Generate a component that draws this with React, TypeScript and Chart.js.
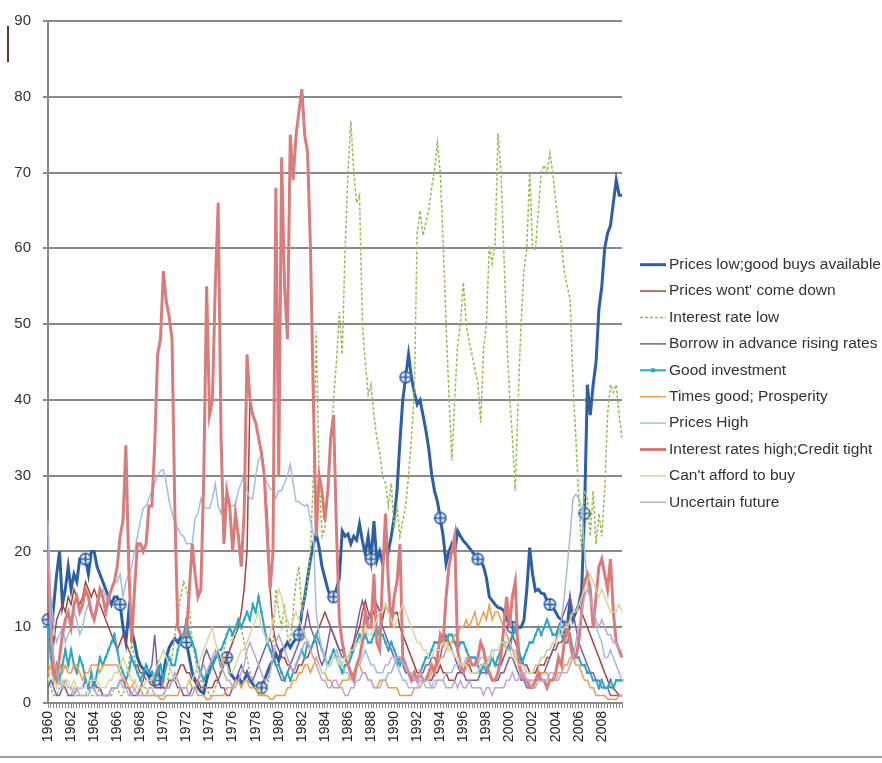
import React, { useEffect, useRef } from "react";
import { Chart, registerables } from "chart.js";

Chart.register(...registerables);

// Quarterly survey shares (%), 1960 Q1 – 2009 Q4
const FIRST_YEAR = 1960;
const QUARTER_LABELS = Array.from({ length: 200 }, (_, i) => `${FIRST_YEAR + Math.floor(i / 4)} Q${(i % 4) + 1}`);
const YEAR_TICKS = ["1960", "1962", "1964", "1966", "1968", "1970", "1972", "1974", "1976", "1978", "1980", "1982", "1984", "1986", "1988", "1990", "1992", "1994", "1996", "1998", "2000", "2002", "2004", "2006", "2008"];

const PRICES_LOW = [
  11, 9, 13, 17, 20, 13, 15, 18, 15, 17, 16, 19, 19, 19, 17, 20, 20, 18, 17, 16,
  15, 14, 13, 14, 14, 13, 10, 8, 12, 9.5, 8, 6, 5, 4.5, 4, 3.5, 4, 3, 4.7, 2.6,
  4, 6, 7.3, 8, 8.5, 8, 8.7, 8.5, 8, 6, 4, 3, 2, 1.5, 1.3, 3, 4.7, 5, 6, 6.5,
  5, 5.5, 6, 4, 3.5, 3, 3.5, 2.6, 3, 4, 3, 2.5, 2, 2.5, 2, 3, 4, 5, 5.6, 6.5,
  5.6, 7, 7.3, 8, 7.3, 8, 8.5, 9, 12, 14, 16.5, 19, 21, 22.3, 20.5, 18, 16.5, 15, 14, 14,
  15, 16.5, 22.7, 22, 22.3, 21, 22, 21.5, 23.6, 21.4, 19.7, 22, 19, 24, 18.8, 20, 18.4, 21.4, 20, 22,
  24.4, 28, 34.5, 40, 43, 46, 43, 41, 39.4, 40, 38, 36, 33.6, 30.2, 28, 26.6, 24.4, 22, 18.4, 20,
  21, 20, 22.7, 22, 21.4, 21, 20.5, 20, 19.5, 19, 18.8, 18, 16.5, 14, 13.5, 13, 12.6, 12.5, 12.2, 11,
  10.5, 10, 10.5, 10, 10, 10.9, 15, 20.5, 17, 14.8, 15, 14.5, 14.4, 13.5, 13, 12.6, 12, 11.3, 11, 10,
  10, 13.5, 11, 12, 13, 14.8, 25, 42, 38, 42, 45, 52, 55, 60, 62, 63, 66, 69, 67, 67,
];

const PRICES_WONT_COME_DOWN = [
  12, 10, 8, 11, 12, 13, 12, 14, 13, 15, 14, 13, 14, 16, 15, 14, 15, 14, 13, 12,
  11, 10, 9, 8, 7, 8, 9, 8, 7, 6, 5, 5, 4, 4, 3, 3, 3, 2, 2, 2,
  2, 2, 3, 3, 3, 4, 5, 5, 4, 4, 3, 3, 3, 2, 2, 2, 2, 2, 3, 3,
  4, 5, 6, 7, 8, 9, 10, 12, 15, 20, 40, 38, 37, 35, 33, 30, 25, 15, 10, 8,
  7, 6, 6, 5, 5, 4, 4, 5, 5, 6, 6, 7, 8, 9, 10, 11, 12, 11, 10, 9,
  8, 7, 7, 6, 6, 7, 8, 9, 10, 12, 13.5, 12, 11, 12, 13, 12, 11, 13, 12, 11,
  11.8, 12, 10, 9, 8, 7, 6, 5, 4, 4, 3, 3, 3, 3, 4, 4, 5, 4, 4, 3,
  3, 3, 4, 4, 4, 5, 5, 4, 4, 4, 5, 5, 5, 6, 6, 5, 5, 5, 6, 7,
  8, 9, 8, 7, 6, 5, 5, 4, 4, 4, 5, 5, 5, 6, 6, 7, 7, 8, 8, 9,
  10, 11, 12, 12, 13, 12, 11, 10, 9, 8, 7, 6, 5, 4, 3, 2, 2, 1.5, 1, 1,
];

const INTEREST_RATE_LOW = [
  3, 2, 1, 1, 2, 3, 2, 1, 1, 2, 1, 1, 1, 1, 2, 1, 1, 1, 2, 1,
  1, 1, 1, 2, 2, 1, 1, 3, 5, 8, 6, 4, 3, 2, 2, 1, 1, 1, 1, 1,
  1, 2, 4, 6, 9, 12, 14, 16, 15, 13, 8, 6, 4, 3, 2, 2, 1, 1, 2, 3,
  5, 7, 9, 10, 8, 9, 11, 10, 8, 6, 4, 3, 2, 2, 1, 1, 2, 4, 8, 15,
  12, 10, 13, 9, 8, 12, 16, 18, 12, 14, 16, 20, 30, 49, 30, 22, 23, 28, 33, 40,
  45, 51.6, 46, 60, 70, 76.8, 70, 66, 67, 50, 45, 40.7, 42, 38, 35, 33, 30, 29, 26, 29,
  23, 26, 22, 24, 26, 30, 35, 41, 62, 65, 61.7, 63.4, 65, 68, 70.3, 73.9, 70, 60.8, 50, 40.7,
  32, 40, 47.2, 50, 55.5, 50, 47.6, 46, 44, 42.4, 37, 46.7, 50, 60.4, 58, 60.4, 75.2, 70.3, 59.8, 49,
  40.7, 35, 28, 40, 50, 57, 60, 70, 60, 59.8, 65, 70, 71, 70, 72.6, 70, 66.4, 63, 60.4, 57,
  55, 53.3, 42.4, 35, 27, 20, 28, 27, 22, 28, 21, 25, 22, 28, 38, 42, 41, 42, 38, 35,
];

const BORROW_IN_ADVANCE = [
  2, 3, 2, 1, 1, 2, 2, 1, 1, 1, 2, 2, 2, 3, 2, 2, 3, 2, 2, 1,
  1, 1, 2, 2, 2, 3, 3, 2, 2, 1, 1, 1, 2, 3, 5, 4, 5, 9, 4, 3,
  2, 2, 2, 3, 3, 2, 2, 1, 1, 1, 2, 2, 3, 4, 6, 7, 6, 5, 4, 3,
  2, 2, 1, 1, 2, 3, 4, 5, 4, 4, 3, 3, 4, 5, 6, 7, 8, 8.5, 7, 5,
  4, 3, 3, 4, 5, 6, 7, 8, 9, 10, 12, 10, 9, 8, 6, 5, 6, 8, 10, 9,
  8, 7, 6, 6, 5, 6, 8, 10, 12, 13.5, 12, 11, 12, 14, 13, 12, 10, 9, 8, 7,
  6, 5, 6, 5, 4, 4, 3, 3, 3, 4, 4, 5, 5, 6, 6, 5, 6, 8, 9, 8,
  7, 6, 5, 4, 4, 3, 3, 3, 3, 3, 4, 4, 4, 4, 3, 3, 3, 4, 4, 5,
  6, 6, 5, 4, 3, 3, 2, 2, 2, 3, 3, 4, 4, 5, 6, 7, 8, 10, 11, 12,
  13, 14, 12, 10, 8, 7, 6, 5, 4, 4, 3, 3, 2, 2, 2, 1, 1, 1, 1, 1,
];

const GOOD_INVESTMENT = [
  10, 6, 3, 5, 3, 5, 7, 5, 7, 5, 4, 6, 5, 3, 2, 4, 2, 4, 6, 5,
  6, 7, 8, 9, 7, 5, 4, 3, 4, 6, 5, 4, 3, 4, 5, 4, 4, 3, 4, 5,
  3, 5, 6, 5, 5, 7, 8, 9, 11, 9, 8, 7, 5, 4, 3, 4, 4, 5, 6, 7,
  7, 8, 9, 10, 9, 10, 11, 10, 11, 12, 11, 13, 12, 14, 12, 10, 8, 7, 6, 5,
  5, 4, 3, 4, 3, 4, 5, 6, 7, 6, 8, 7, 8, 9, 8, 7, 6, 5, 6, 7,
  6, 5, 4, 5, 5, 6, 7, 8, 9, 8, 9, 8, 8, 9, 10, 9, 9, 8, 7, 8,
  7, 6, 5, 6, 5, 4, 3, 4, 3, 4, 5, 6, 6, 7, 8, 8, 8, 9, 8, 9,
  9, 8, 7, 8, 8, 7, 6, 6, 6, 5, 4, 5, 4, 5, 6, 5, 6, 7, 8, 7,
  7, 9, 10, 8, 5, 6, 7, 8, 8, 9, 10, 9, 10, 11, 10, 9, 9, 10, 9, 8,
  8, 9, 7, 6, 6, 5, 5, 4, 4, 3, 3, 2, 3, 2, 2, 3, 2, 3, 3, 3,
];

const TIMES_GOOD = [
  4, 5, 4, 5, 5, 4, 5, 4, 4, 5, 5, 4, 3, 4, 4, 5, 5, 5, 4, 5,
  5, 5, 5, 5, 5, 4, 3, 3, 2, 2, 3, 2, 2, 1, 1, 1, 1, 1, 1, 0.5,
  0.5, 1, 1, 1, 1, 1, 2, 2, 2, 3, 2, 2, 1, 1, 1, 0.5, 0.5, 1, 1, 1,
  1, 1, 2, 2, 2, 3, 3, 2, 3, 3, 2, 2, 2, 1, 1, 1, 1, 0.5, 0.5, 1,
  1, 1, 1, 2, 2, 3, 3, 4, 4, 5, 5, 4, 5, 6, 5, 4, 4, 3, 3, 2,
  2, 2, 3, 3, 3, 4, 4, 5, 5, 4, 4, 3, 3, 2, 2, 3, 3, 3, 2, 2,
  2, 2, 1, 1, 1, 1, 1, 2, 2, 2, 3, 3, 3, 4, 5, 5, 6, 6, 7, 8,
  8, 9, 9, 10, 10, 11, 10, 11, 12, 10, 11, 12, 11, 13, 11, 12, 12, 11, 10, 9,
  8, 7, 6, 5, 4, 4, 3, 3, 3, 3, 4, 4, 4, 4, 3, 3, 3, 4, 4, 5,
  5, 6, 6, 5, 5, 4, 3, 3, 2, 2, 1, 1, 1, 1, 0.5, 0.5, 0.5, 0.5, 1, 1,
];

const PRICES_HIGH = [
  17, 14, 10, 8, 9, 10, 8, 9, 10, 12, 11, 9, 10, 12, 13, 12, 11, 12, 14, 15,
  14, 13, 15, 16, 16, 17, 14, 16, 17, 18, 20, 22, 24, 25.7, 26, 27, 28, 29, 30, 30.6,
  30.8, 29, 26.6, 25, 24, 23, 22.3, 22, 21, 21, 21, 24.4, 25, 27, 26, 25.7, 25.7, 27, 28.9, 26,
  25, 27, 27, 26, 26, 26.2, 28, 29, 30.2, 28, 27, 27, 30, 32, 32.8, 30, 29, 28.3, 28, 27,
  28, 28, 29, 30, 31.5, 29, 26.6, 26.6, 26.2, 26, 26.2, 24, 22.3, 12, 9, 7, 6, 5, 5, 6,
  7, 6, 5, 4, 4, 3, 4, 5, 5, 6, 7, 6, 5, 5, 4, 4, 4, 5, 5, 6,
  6, 5, 4, 3, 3, 2, 2, 2, 2, 3, 3, 2, 2, 2, 3, 3, 3, 3, 4, 4,
  4, 5, 5, 5, 5, 6, 6, 5, 5, 5, 6, 6, 6, 6, 7, 7, 7, 7, 8, 8,
  8, 7, 7, 6, 5, 5, 4, 4, 4, 5, 5, 6, 6, 7, 7, 8, 8, 9, 11, 14,
  18, 22, 27, 27.5, 27, 26, 20, 16, 14, 12, 10, 9, 8, 6, 6, 7, 6, 5, 4, 3,
];

const INTEREST_RATES_HIGH = [
  20, 10, 4, 3, 6, 9, 11, 12, 10, 13, 14, 12, 13, 15, 14, 12, 11, 13, 15, 14,
  12, 14, 15, 16, 18, 22, 24, 34, 18, 8, 15, 21, 21, 20, 21, 26, 26, 34, 46, 48,
  57, 53, 51, 48, 25, 10, 9, 9, 9, 15, 21, 17, 14, 15, 30, 55, 38, 40, 55, 66,
  35, 21, 28, 26, 20, 25, 22, 18, 25, 46, 40, 38, 37, 35, 33, 30, 22, 15, 20, 68,
  30, 72, 55, 48, 75, 69, 75, 78, 81, 75, 72.6, 60, 40, 22, 30, 28, 24, 28, 35, 38,
  23, 11, 8, 6, 5, 4, 3, 5, 6, 8, 12, 10, 10, 17, 8, 7, 17, 25, 16, 10,
  14, 16, 21, 6, 5, 4, 3, 4, 3, 4, 3, 3, 4, 5, 4, 6, 9, 8, 14, 18,
  20, 22, 7, 5, 4, 5, 6, 5, 5, 6, 8, 7, 5, 4, 3, 3, 4, 6, 10, 14,
  10, 14, 16, 6, 4, 3, 3, 2, 2, 3, 4, 3, 3, 2, 3, 3, 4, 6, 5, 8,
  10, 8, 6, 6, 8, 12, 16, 17, 15, 10, 14, 18, 19, 17, 15, 19, 12, 8, 7, 6,
];

const CANT_AFFORD = [
  3, 4, 3, 2, 3, 2, 3, 3, 2, 3, 2, 2, 2, 2, 3, 3, 3, 3, 2, 2,
  2, 3, 3, 4, 4, 5, 6, 5, 4, 3, 3, 2, 2, 2, 3, 3, 3, 4, 5, 6,
  7, 6, 5, 4, 3, 3, 2, 2, 2, 3, 3, 4, 5, 6, 7, 8, 9, 10, 8, 7,
  6, 5, 5, 4, 4, 5, 6, 7, 7, 8, 9, 10, 11, 12, 10, 9, 8, 9, 11, 13,
  15, 14, 12, 11, 10, 11, 12, 11, 10, 9, 8, 7, 6, 5, 5, 4, 4, 5, 5, 6,
  6, 5, 5, 6, 6, 7, 7, 8, 8, 9, 10, 9, 9, 10, 11, 12, 12, 13, 12, 11,
  10, 11, 12, 13, 12, 11, 10, 9, 8, 8, 7, 7, 6, 6, 7, 7, 7, 8, 8, 7,
  7, 6, 6, 5, 5, 5, 4, 4, 4, 4, 5, 5, 5, 6, 6, 7, 7, 8, 8, 7,
  7, 6, 6, 5, 5, 4, 4, 4, 4, 5, 5, 6, 6, 7, 7, 8, 8, 9, 9, 10,
  10, 11, 12, 12, 13, 14, 15, 16, 17, 16, 15, 14, 15, 14, 13, 12, 12, 12, 13, 12,
];

const UNCERTAIN_FUTURE = [
  24, 10, 6, 4, 3, 2, 3, 2, 2, 1, 2, 1, 1, 1, 1, 2, 2, 1, 1, 1,
  1, 1, 2, 2, 2, 3, 2, 2, 1, 1, 2, 1, 1, 1, 1, 2, 2, 1, 1, 1,
  1, 2, 2, 3, 4, 3, 2, 2, 2, 1, 1, 2, 3, 4, 5, 4, 5, 6, 7, 6,
  5, 4, 3, 3, 2, 2, 3, 4, 5, 7, 8, 7, 6, 5, 4, 3, 3, 4, 6, 8,
  9, 8, 7, 6, 5, 4, 5, 6, 7, 8, 8, 7, 6, 5, 4, 3, 3, 2, 2, 3,
  3, 2, 2, 1, 1, 2, 2, 3, 3, 4, 4, 3, 3, 2, 2, 2, 3, 3, 4, 4,
  5, 6, 6, 5, 5, 4, 4, 3, 3, 4, 3, 3, 3, 2, 2, 3, 3, 3, 2, 2,
  2, 3, 2, 3, 2, 2, 3, 2, 2, 2, 2, 1, 2, 2, 1, 2, 2, 2, 2, 3,
  3, 4, 3, 3, 4, 4, 3, 3, 2, 2, 3, 3, 3, 3, 4, 4, 3, 3, 4, 4,
  4, 5, 6, 8, 10, 12, 14, 15, 14, 12, 11, 10, 11, 10, 9, 9, 8, 8, 7, 7,
];

// Quarters on the "Prices low" line that carry a circled-cross marker
const MARKED_QUARTERS = [0, 13, 25, 37, 48, 62, 74, 87, 99, 112, 124, 136, 149, 161, 174, 179, 186];

const BLUE = "#2f5fa3";

function makeCrossMarker(): HTMLCanvasElement {
  const c = document.createElement("canvas");
  c.width = 15;
  c.height = 15;
  const g = c.getContext("2d")!;
  g.strokeStyle = BLUE;
  g.lineWidth = 1.6;
  g.fillStyle = "rgba(220,232,246,0.85)";
  g.beginPath();
  g.arc(7.5, 7.5, 5.6, 0, Math.PI * 2);
  g.fill();
  g.stroke();
  g.beginPath();
  g.moveTo(7.5, 2);
  g.lineTo(7.5, 13);
  g.moveTo(2, 7.5);
  g.lineTo(13, 7.5);
  g.stroke();
  return c;
}

type SeriesDef = {
  label: string;
  data: number[];
  color: string;
  width: number;
  dash?: number[];
};

const SERIES: SeriesDef[] = [
  { label: "Prices low;good buys available", data: PRICES_LOW, color: BLUE, width: 3 },
  { label: "Prices wont' come down", data: PRICES_WONT_COME_DOWN, color: "#a8443f", width: 1.5 },
  { label: "Interest rate low", data: INTEREST_RATE_LOW, color: "#98bb52", width: 1.5, dash: [3, 2] },
  { label: "Borrow in advance rising rates", data: BORROW_IN_ADVANCE, color: "#7a5ea8", width: 1.5 },
  { label: "Good investment", data: GOOD_INVESTMENT, color: "#2fa7c2", width: 2 },
  { label: "Times good; Prosperity", data: TIMES_GOOD, color: "#f29a4e", width: 1.5 },
  { label: "Prices High", data: PRICES_HIGH, color: "#a3bde0", width: 1.5 },
  { label: "Interest rates high;Credit tight", data: INTEREST_RATES_HIGH, color: "#d97c7c", width: 3 },
  { label: "Can't afford to buy", data: CANT_AFFORD, color: "#d9d6a0", width: 1.5 },
  { label: "Uncertain future", data: UNCERTAIN_FUTURE, color: "#b8a8d0", width: 1.5 },
];

const FONT = "'Liberation Sans', Arial, sans-serif";

// Legend drawn in the right margin, one line sample + label per series
const sideLegend = {
  id: "sideLegend",
  afterDraw(chart: any) {
    const { ctx } = chart;
    const step = 26.4;
    const n = SERIES.length;
    const y0 = chart.height / 2 - ((n - 1) * step) / 2 + 2;
    ctx.save();
    ctx.font = `15.5px ${FONT}`;
    ctx.textBaseline = "middle";
    SERIES.forEach((s, i) => {
      const y = y0 + i * step;
      ctx.strokeStyle = s.color;
      ctx.lineWidth = s.width;
      ctx.setLineDash(s.dash || []);
      ctx.beginPath();
      ctx.moveTo(640, y);
      ctx.lineTo(666, y);
      ctx.stroke();
      ctx.setLineDash([]);
      if (i === 4) {
        ctx.fillStyle = s.color;
        ctx.fillRect(651, y - 2, 4, 4);
      }
      ctx.fillStyle = "#333";
      ctx.fillText(s.label, 669, y);
    });
    // frame details: small mark at the top left and the bottom rule
    ctx.fillStyle = "#5b3a2a";
    ctx.fillRect(7, 26, 2, 36);
    ctx.fillStyle = "#9aa0a8";
    ctx.fillRect(0, 756, chart.width, 2);
    ctx.restore();
  },
};

export default function App() {
  const ref = useRef<HTMLCanvasElement | null>(null);

  useEffect(() => {
    document.body.style.margin = "0";
    const marker = makeCrossMarker();
    const marked = new Set(MARKED_QUARTERS);
    const datasets = SERIES.map((s, i) => {
      const base: any = {
        label: s.label,
        data: s.data,
        borderColor: s.color,
        backgroundColor: s.color,
        borderWidth: s.width,
        borderDash: s.dash || [],
        tension: 0,
        pointRadius: 0,
        order: SERIES.length - i,
      };
      if (i === 0) {
        base.pointStyle = marker;
        base.pointRadius = (c: any) => (marked.has(c.dataIndex) ? 6 : 0);
      }
      if (i === 4) {
        base.pointStyle = "rect";
        base.pointRadius = 1.8;
        base.pointBorderWidth = 0;
        base.pointBackgroundColor = s.color;
      }
      return base;
    });

    const chart = new Chart(ref.current!, {
      type: "line",
      data: { labels: QUARTER_LABELS, datasets },
      options: {
        animation: false,
        responsive: false,
        layout: { padding: { left: 8, top: 17, right: 260, bottom: 5 } },
        plugins: { legend: { display: false }, tooltip: { enabled: false } },
        scales: {
          x: {
            afterFit: (s: any) => {
              s.height = 55;
            },
            grid: { drawOnChartArea: false, color: "#8a8a8a", tickLength: 5, lineWidth: 1 },
            border: { color: "#8a8a8a", width: 2 },
            ticks: {
              autoSkip: false,
              minRotation: 90,
              maxRotation: 90,
              padding: 3,
              color: "#222",
              font: { family: FONT, size: 14 },
              callback: (_v: any, idx: number) => (idx % 8 === 0 ? YEAR_TICKS[idx / 8] : ""),
            },
          },
          y: {
            min: 0,
            max: 90,
            afterFit: (s: any) => {
              s.width = 40;
            },
            grid: { color: "#8a8a8a", lineWidth: 2, tickLength: 5 },
            border: { color: "#8a8a8a", width: 2 },
            ticks: {
              stepSize: 10,
              padding: 12,
              color: "#333",
              font: { family: FONT, size: 15 },
            },
          },
        },
      },
      plugins: [sideLegend],
    });
    return () => chart.destroy();
  }, []);

  return (
    <div style={{ width: 882, height: 763, background: "#fff" }}>
      <canvas ref={ref} width={882} height={763} style={{ display: "block" }} />
    </div>
  );
}
